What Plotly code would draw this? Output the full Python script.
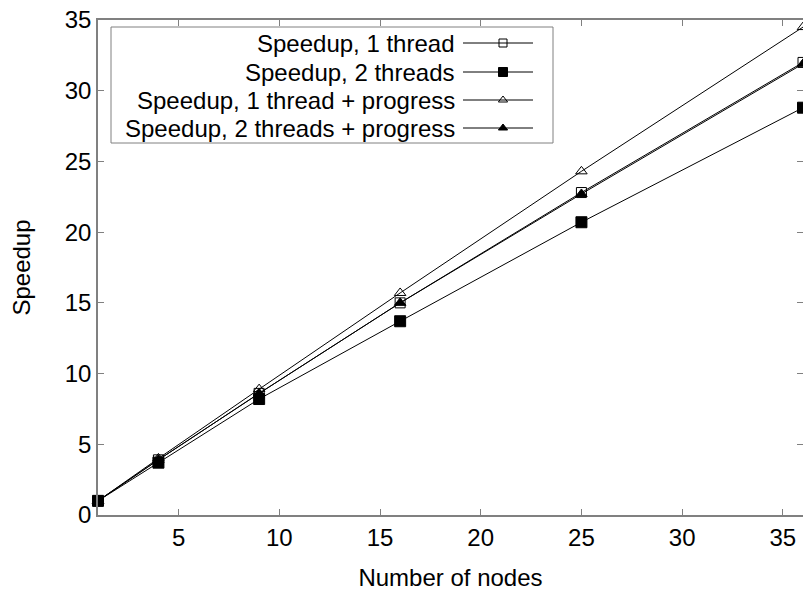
import plotly.graph_objects as go

nodes = [1, 4, 9, 16, 25, 36]
speedup_1t = [1.0, 3.9, 8.6, 15.0, 22.8, 32.0]
speedup_2t = [1.0, 3.7, 8.2, 13.7, 20.7, 28.8]
speedup_1t_prog = [1.0, 4.0, 8.9, 15.7, 24.3, 34.5]
speedup_2t_prog = [1.0, 3.9, 8.6, 15.0, 22.7, 31.9]

names = ["Speedup, 1 thread", "Speedup, 2 threads",
         "Speedup, 1 thread + progress", "Speedup, 2 threads + progress"]
series = [speedup_1t, speedup_2t, speedup_1t_prog, speedup_2t_prog]
symbols = ["square-open", "square", "triangle-up-open", "triangle-up"]
sizes = [10, 11, 10, 10]

x_ticks = [5, 10, 15, 20, 25, 30, 35]
y_ticks = [0, 5, 10, 15, 20, 25, 30, 35]

FONT = "Liberation Sans, Arial, Helvetica, sans-serif"
FRAME = "#808080"
FS = 24

fig = go.Figure()
for name, ys, sym, sz in zip(names, series, symbols, sizes):
    fig.add_trace(go.Scatter(
        x=nodes, y=ys, mode="lines+markers", name=name, showlegend=False,
        line=dict(color="black", width=1),
        marker=dict(symbol=sym, size=sz, color="black",
                    line=dict(color="black", width=1)),
        cliponaxis=False,
    ))

# custom gnuplot-style legend (text right, sample on the right)
row_y = [43, 72, 100, 128]
for name, sym, sz, ry in zip(names, symbols, sizes, row_y):
    fig.add_trace(go.Scatter(
        x=[463, 503, 533], y=[ry, ry, ry], xaxis="x2", yaxis="y2",
        mode="lines", line=dict(color="black", width=1),
        showlegend=False, hoverinfo="skip"))
    fig.add_trace(go.Scatter(
        x=[503], y=[ry], xaxis="x2", yaxis="y2", mode="markers",
        marker=dict(symbol=sym, size=sz - 2, color="black",
                    line=dict(color="black", width=1)),
        showlegend=False, hoverinfo="skip"))
    fig.add_annotation(x=457, y=ry, xref="x2", yref="y2", text=name,
                       showarrow=False, xanchor="right", yanchor="middle",
                       font=dict(family=FONT, size=FS, color="black"))

fig.add_shape(type="rect", xref="x2", yref="y2", x0=111, x1=553, y0=27, y1=143,
              line=dict(color=FRAME, width=1), fillcolor="rgba(0,0,0,0)")

fig.update_layout(
    width=803, height=592,
    margin=dict(l=98, r=0, t=20, b=77),
    paper_bgcolor="white", plot_bgcolor="white",
    font=dict(family=FONT, size=FS, color="black"),
    xaxis=dict(range=[1, 36], tickvals=x_ticks, ticks="inside", ticklen=6,
               tickcolor=FRAME, showline=True, linecolor=FRAME, linewidth=1.5,
               mirror="ticks", showgrid=False, zeroline=False,
               automargin=False,
               title=dict(text="Number of nodes", standoff=20,
                          font=dict(size=FS)),
               tickfont=dict(size=FS)),
    yaxis=dict(range=[0, 35], tickvals=y_ticks, ticks="inside", ticklen=6,
               tickcolor=FRAME, showline=True, linecolor=FRAME, linewidth=1.5,
               mirror="ticks", showgrid=False, zeroline=False,
               automargin=False,
               title=dict(text="Speedup", standoff=27, font=dict(size=FS)),
               tickfont=dict(size=FS)),
    xaxis2=dict(range=[98, 803], domain=[0, 1], overlaying="x", visible=False,
                fixedrange=True),
    yaxis2=dict(range=[515, 20], domain=[0, 1], overlaying="y", visible=False,
                fixedrange=True),
    showlegend=False,
)

fig.write_html("out.html",
               config={"displayModeBar": False},
               post_script="document.body.style.margin='0';"
                           "document.body.style.overflow='hidden';")
